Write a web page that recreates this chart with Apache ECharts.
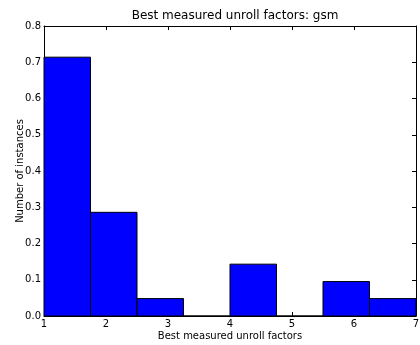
<!DOCTYPE html>
<html><head><meta charset="utf-8">
<script src="https://cdn.jsdelivr.net/npm/echarts@6/dist/echarts.min.js"></script>
<style>html,body{margin:0;padding:0;background:#fff}#c{width:420px;height:345px}</style>
</head><body><div id="c"></div>
<script>
const binStarts = [1, 1.75, 2.5, 3.25, 4, 4.75, 5.5, 6.25];
const binEnds = [1.75, 2.5, 3.25, 4, 4.75, 5.5, 6.25, 7];
const values = [0.714, 0.286, 0.048, 0, 0.143, 0, 0.095, 0.048];
const xTicks = [1, 2, 3, 4, 5, 6, 7];
const yTicks = [0, 0.1, 0.2, 0.3, 0.4, 0.5, 0.6, 0.7, 0.8];

const font = 'DejaVu Sans';
const chart = echarts.init(document.getElementById('c'), null, {renderer: 'canvas'});
const axCommon = {
  axisLine: {show: true, onZero: false, lineStyle: {color: '#000', width: 1}},
  axisTick: {show: true, inside: true, length: 4, lineStyle: {color: '#000'}},
  splitLine: {show: false}
};
chart.setOption({
  animation: false,
  title: {text: 'Best measured unroll factors: gsm', left: 230, top: 5, textAlign: 'center',
    textStyle: {fontFamily: font, fontSize: 12, fontWeight: 'normal', color: '#000'}},
  grid: {left: 44, right: 4, top: 26, bottom: 29, containLabel: false, outerBoundsMode: 'none'},
  xAxis: [
    Object.assign({type: 'value', min: 1, max: 7, interval: 1, position: 'bottom',
      name: 'Best measured unroll factors', nameLocation: 'middle', nameGap: 15,
      nameMoveOverlap: false,
      nameTextStyle: {fontFamily: font, fontSize: 10, color: '#000'},
      axisLabel: {fontFamily: font, fontSize: 10, color: '#000', margin: 3}}, axCommon),
    Object.assign({type: 'value', min: 1, max: 7, interval: 1, position: 'top',
      axisLabel: {show: false}}, axCommon)
  ],
  yAxis: [
    Object.assign({type: 'value', min: 0, max: 0.8, interval: 0.1, position: 'left',
      name: 'Number of instances', nameLocation: 'middle', nameGap: 19,
      nameMoveOverlap: false,
      nameTextStyle: {fontFamily: font, fontSize: 10, color: '#000'},
      axisLabel: {fontFamily: font, fontSize: 10, color: '#000', margin: 3,
        formatter: v => v.toFixed(1)}}, axCommon),
    Object.assign({type: 'value', min: 0, max: 0.8, interval: 0.1, position: 'right',
      axisLabel: {show: false}}, axCommon)
  ],
  series: [{
    type: 'custom',
    xAxisIndex: 0, yAxisIndex: 0,
    data: values.map((v, i) => [binStarts[i], binEnds[i], v]),
    renderItem: function (params, api) {
      const p0 = api.coord([api.value(0), api.value(2)]);
      const p1 = api.coord([api.value(1), 0]);
      return {
        type: 'rect',
        shape: {x: p0[0], y: p0[1], width: p1[0] - p0[0], height: p1[1] - p0[1]},
        style: {fill: '#0000ff', stroke: '#000', lineWidth: 1}
      };
    },
    clip: false
  }]
});
</script>
</body></html>
